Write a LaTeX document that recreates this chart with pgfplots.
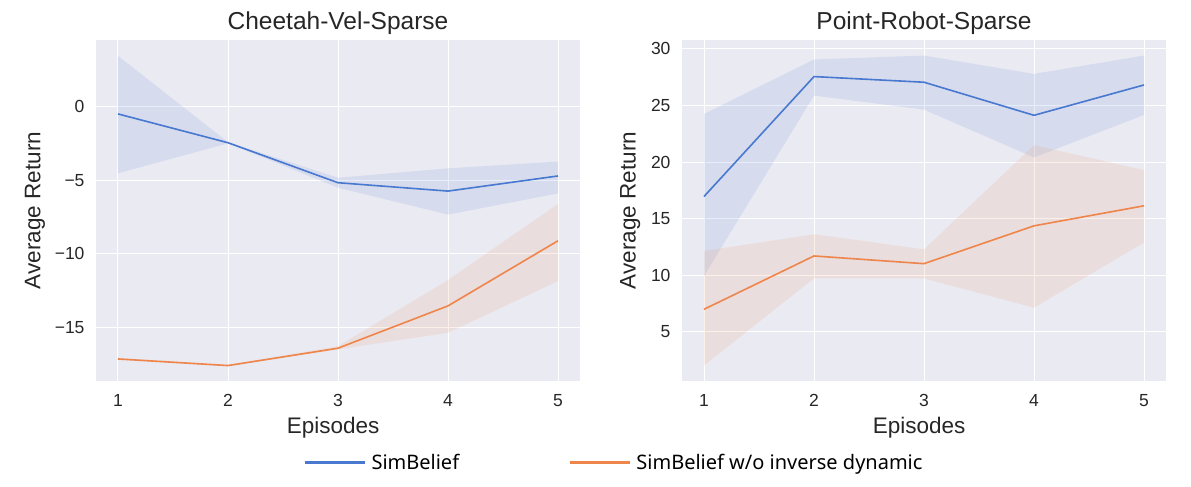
\documentclass[border=0pt]{standalone}
\usepackage{pgfplots}
\pgfplotsset{compat=1.18}
\usepackage{fontspec}
\setmainfont{Liberation Sans}
\newfontfamily\legfont{Noto Sans}
\definecolor{bgc}{HTML}{EAEAF2}
\definecolor{cblue}{HTML}{4878D0}
\definecolor{corange}{HTML}{EE854A}
\definecolor{txt}{HTML}{262626}
\pgfplotsset{
  sbstyle/.style={
    scale only axis, width=484pt, height=341pt,
    axis background/.style={fill=bgc},
    axis line style={draw=none},
    major tick length=0pt,
    grid=major, grid style={white, line width=1pt},
    xmin=0.8, xmax=5.2, xtick={1,2,3,4,5},
    tick label style={font=\fontsize{17.5}{21}\selectfont, text=txt},
    xticklabel style={yshift=-9.5pt},
    yticklabel style={xshift=-8pt},
    label style={font=\fontsize{22.5}{27}\selectfont, text=txt},
    title style={font=\fontsize{24.5}{29}\selectfont, text=txt, at={(axis description cs:0.5,1.012)}, anchor=base},
    xlabel={Episodes},
    xlabel style={at={(axis description cs:0.49,-0.1525)}, anchor=base},
    ylabel={Average Return},
    /pgf/number format/assume math mode=true,
    clip=false,
  },
}
\begin{document}
\begin{tikzpicture}[x=1pt,y=1pt]
\path[use as bounding box] (0,0) rectangle (1191,487);
\begin{axis}[sbstyle, at={(96pt,106pt)}, anchor=south west,
  title={Cheetah-Vel-Sparse},
  ymin=-18.65, ymax=4.55,
  ytick={-15,-10,-5,0}, yticklabels={−15,−10,−5,0},
  ylabel style={at={(axis description cs:-0.126,0.5)}, anchor=center},
  legend columns=2,
  legend style={draw=none, fill=none, at={(axis description cs:1.070,-0.24)}, anchor=center,
    font=\legfont\fontsize{20}{24}\selectfont, text=black,
    /tikz/every even column/.append style={column sep=107pt}},
  legend cell align=left,
  legend image code/.code={\draw[#1, line width=3pt] (0pt,0pt) -- (60pt,0pt); \path (64pt,0pt);},
]
\addplot[cblue, line width=1.6pt] coordinates {(1,-0.48) (2,-2.44) (3,-5.16) (4,-5.73) (5,-4.70)};
\addlegendentry{SimBelief}
\addplot[corange, line width=1.6pt] coordinates {(1,-17.15) (2,-17.6) (3,-16.42) (4,-13.54) (5,-9.11)};
\addlegendentry{SimBelief w/o inverse dynamic}
\addplot[fill=cblue, fill opacity=0.12, draw=none, forget plot] coordinates {
 (1,3.47) (2,-2.40) (3,-4.82) (4,-4.18) (5,-3.72)
 (5,-5.89) (4,-7.33) (3,-5.50) (2,-2.48) (1,-4.52)} -- cycle;
\addplot[fill=corange, fill opacity=0.12, draw=none, forget plot] coordinates {
 (1,-17.08) (2,-17.55) (3,-16.28) (4,-11.78) (5,-6.60)
 (5,-11.85) (4,-15.37) (3,-16.50) (2,-17.65) (1,-17.22)} -- cycle;
\end{axis}
\begin{axis}[sbstyle, at={(682pt,106pt)}, anchor=south west,
  title={Point-Robot-Sparse},
  ymin=0.67, ymax=30.78,
  ytick={5,10,15,20,25,30},
  ylabel style={at={(axis description cs:-0.107,0.5)}, anchor=center},
]
\addplot[fill=cblue, fill opacity=0.12, draw=none] coordinates {
 (1,24.25) (2,29.06) (3,29.41) (4,27.79) (5,29.41)
 (5,24.16) (4,20.41) (3,24.63) (2,25.87) (1,9.94)} -- cycle;
\addplot[fill=corange, fill opacity=0.12, draw=none] coordinates {
 (1,12.15) (2,13.63) (3,12.30) (4,21.50) (5,19.29)
 (5,12.89) (4,7.14) (3,9.73) (2,9.73) (1,2.04)} -- cycle;
\addplot[cblue, line width=1.6pt] coordinates {(1,16.96) (2,27.55) (3,27.05) (4,24.13) (5,26.81)};
\addplot[corange, line width=1.6pt] coordinates {(1,7.0) (2,11.71) (3,11.03) (4,14.37) (5,16.14)};
\end{axis}
\end{tikzpicture}
\end{document}
